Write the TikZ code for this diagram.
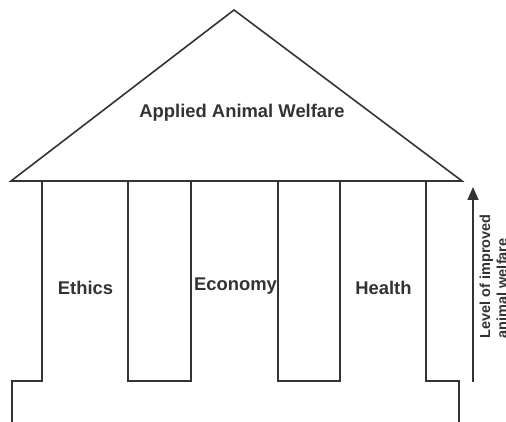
\documentclass[tikz,border=0pt]{standalone}
\usepackage{fontspec}
\setmainfont{Liberation Sans}
\usetikzlibrary{arrows.meta}
\definecolor{ink}{HTML}{333333}
\tikzset{
  outline/.style={draw=ink, line width=1.6pt, line join=miter},
  lbl/.style={text=ink, font=\bfseries\fontsize{18.4}{22}\selectfont, inner sep=0pt},
  sidelbl/.style={text=ink, font=\bfseries\fontsize{14.5}{17}\selectfont, inner sep=0pt, align=left, rotate=90},
}
\begin{document}
\begin{tikzpicture}[x=1pt,y=-1pt]
\useasboundingbox (0,0) rectangle (506,422);
% roof
\draw[outline] (234,10) -- (462,181) -- (11,181) -- cycle;
% outer walls and base steps
\draw[outline] (12,422) -- (12,381) -- (42,381) -- (42,181);
\draw[outline] (426,181) -- (426,381) -- (459,381) -- (459,422);
% inner pillars
\draw[outline] (128,181) rectangle (191,381);
\draw[outline] (278,181) rectangle (340,381);
% labels
\node[lbl] (roof) at (242,113) {Applied Animal Welfare};
\node[lbl] (ethics) at (85.5,288) {Ethics};
\node[lbl] (economy) at (235.5,286.5) {Economy};
\node[lbl] (health) at (383.5,288) {Health};
% level arrow
\coordinate (abot) at (473,382);
\coordinate (atop) at (473,187);
\draw[draw=ink, line width=1.6pt, -{Triangle[length=13pt,width=11pt]}] (abot) -- (atop);
\node[sidelbl, anchor=north west] (level) at (479.5,338.5) {Level of improved\\animal welfare};
\end{tikzpicture}
\end{document}
